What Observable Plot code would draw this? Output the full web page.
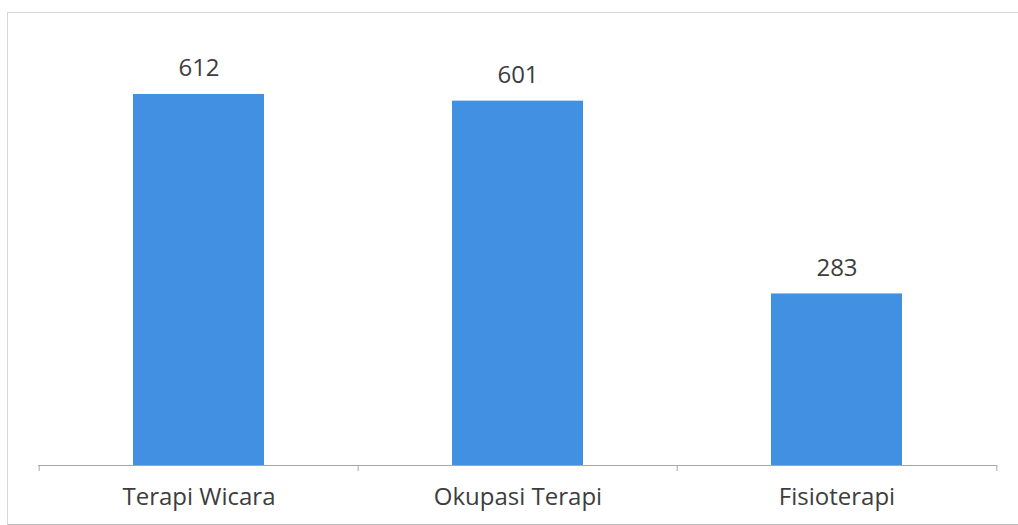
<!DOCTYPE html>
<html>
<head>
<meta charset="utf-8">
<script src="https://cdn.jsdelivr.net/npm/d3@7"></script>
<script src="https://cdn.jsdelivr.net/npm/@observablehq/plot@0.6"></script>
<style>
  html, body { margin: 0; padding: 0; background: #fff; overflow: hidden; }
  #wrap { position: relative; width: 1018px; height: 525px; overflow: hidden; }
  #frame { position: absolute; left: 7px; top: 12px; width: 1100px; height: 511px;
           border-left: 1px solid #d6d6d6; border-top: 1px solid #d6d6d6; border-bottom: 1px solid #bdbdbd; }
  #chart { position: absolute; left: 0; top: 0; }
</style>
</head>
<body>
<div id="wrap"><div id="frame"></div><div id="chart"></div></div>
<script>
const categories = ["Terapi Wicara", "Okupasi Terapi", "Fisioterapi"];
const values = [612, 601, 283];

const data = categories.map((c, i) => ({category: c, value: values[i]}));
const textColor = "#3d3d3d";
const barColor = "#4190e2";
const step = (1018 - 38 - 21) / categories.length;

const chart = Plot.plot({
  width: 1018,
  height: 525,
  marginLeft: 38,
  marginRight: 21,
  marginTop: 20,
  marginBottom: 60,
  style: {fontFamily: "'Open Sans', Lato, sans-serif", background: "transparent"},
  x: {domain: categories, paddingInner: 0.59, paddingOuter: 0.295, axis: null},
  y: {domain: [0, 734], axis: null},
  marks: [
    Plot.barY(data, {x: "category", y: "value", fill: barColor}),
    Plot.ruleY([0], {stroke: "#a6a6a6", strokeWidth: 1}),
    Plot.ruleX(categories, {x: d => d, y1: 0, y2: 0, insetBottom: -6, dx: -step / 2, stroke: "#a6a6a6"}),
    Plot.ruleX(categories.slice(-1), {x: d => d, y1: 0, y2: 0, insetBottom: -6, dx: step / 2, stroke: "#a6a6a6"}),
    Plot.text(data, {x: "category", y: "value", text: d => String(d.value), dy: -26, fontSize: 24, fill: textColor}),
    Plot.axisX({tickSize: 0, tickPadding: 22, fontSize: 24, color: textColor, label: null})
  ]
});
document.getElementById("chart").appendChild(chart);
</script>
</body>
</html>
